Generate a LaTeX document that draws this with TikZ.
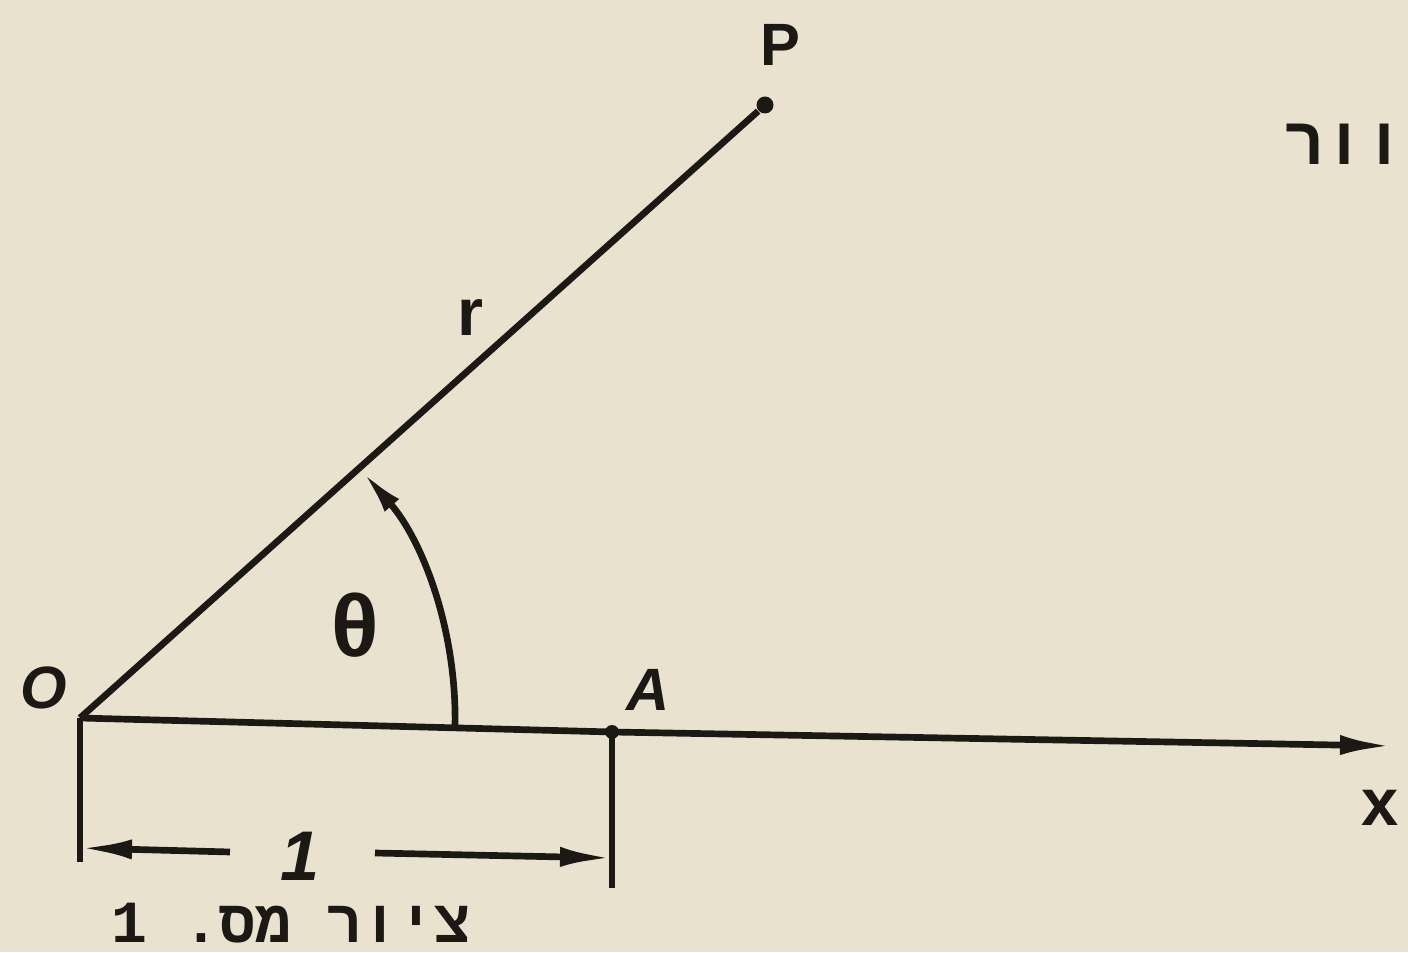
\documentclass[tikz,border=0pt]{standalone}
\usepackage{fontspec}
\setmainfont{Liberation Sans}
\newfontfamily\hebfont[Script=Hebrew]{Liberation Mono}
\TeXXeTstate=1
\usetikzlibrary{arrows.meta}
\definecolor{paper}{RGB}{232,226,206}
\definecolor{ink}{RGB}{28,24,20}
\tikzset{
	line/.style={draw=ink, line width=1.9pt},
	tip/.style={-{Latex[length=5.2mm, width=2mm]}},
	lbl/.style={text=ink, inner sep=0pt, font=\fontsize{17}{19}\selectfont\bfseries},
	dot/.style={circle, fill=ink, inner sep=0pt, minimum size=#1}
}

\begin{document}
\begin{tikzpicture}
	% Paper and frame:
	\fill[paper] (0, 0) rectangle (14.08, 9.52);
	\useasboundingbox (0, 0) rectangle (14.08, 9.52);
	\clip (0, 0) rectangle (14.08, 9.52);
	% Points:
	\coordinate (O) at (0.80, 2.34);
	\coordinate (Xend) at (13.92, 2.06);
	\coordinate (dimL) at (0.80, 1.04);
	\coordinate (dimR) at (6.12, 0.94);
	\coordinate (extL) at (0.80, 0.90);
	\coordinate (extR) at (6.12, 0.64);
	\node[dot=1.7mm](P) at (7.65, 8.47){};
	\node[dot=1.4mm](A) at (6.12, 2.20){};
	% Paths, nodes and wires:
	\draw[line] (O) -- (P);
	\draw[line, tip] (O) -- (A.center) -- (Xend);
	\draw[line, -{Latex[length=4.5mm, width=1.9mm]}] (4.55, 2.25) arc[start angle=-1.3, end angle=41.2, radius=3.75];
	\draw[line] (O) -- (extL);
	\draw[line] (A.center) -- (extR);
	\node[lbl, font=\fontsize{20}{22}\selectfont\bfseries\itshape](N1) at (3.00, 0.96){1};
	\draw[line, tip] ([xshift=-7mm, yshift=0.4mm]N1.center) -- (dimL);
	\draw[line, tip] ([xshift=7.5mm, yshift=0.3mm]N1.center) -- (dimR);
	% Labels:
	\node[lbl](LP) at (7.80, 9.07){P};
	\node[lbl, font=\fontsize{19}{21}\selectfont\bfseries](Lr) at (4.70, 6.34){r};
	\node[lbl, font=\fontsize{25}{27}\selectfont\bfseries](Lth) at (3.55, 3.27){θ};
	\node[lbl, font=\fontsize{17}{19}\selectfont\bfseries\itshape](LO) at (0.44, 2.64){O};
	\node[lbl, font=\fontsize{17}{19}\selectfont\bfseries\itshape](LA) at (6.48, 2.62){A};
	\node[lbl, font=\fontsize{19}{21}\selectfont\bfseries](Lx) at (13.80, 1.44){x};
	\node[lbl, font=\fontsize{17}{19}\hebfont\bfseries](cap) at (2.91, 0.29){\beginR ציור מס.~1\endR};
	\node[lbl, font=\fontsize{19}{21}\hebfont\bfseries, anchor=east](top) at (14.05, 8.08){\beginR וור\endR};
\end{tikzpicture}
\end{document}
